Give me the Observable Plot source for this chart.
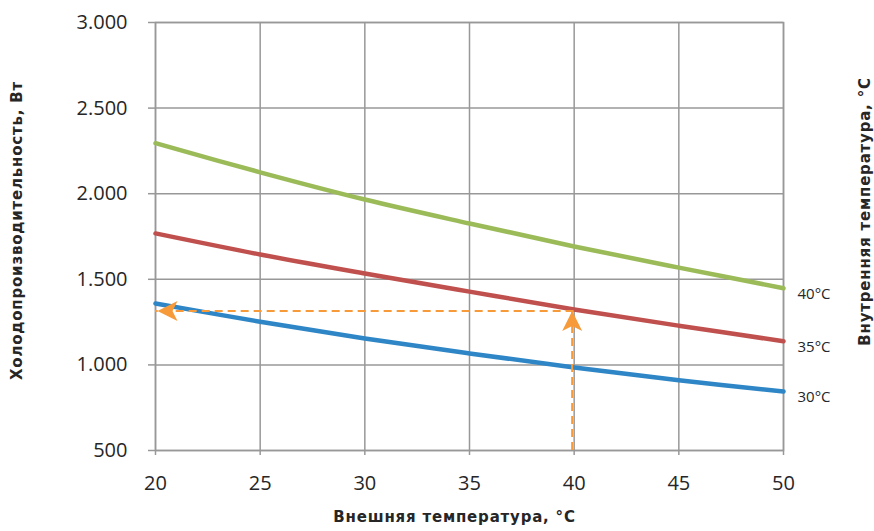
<!DOCTYPE html>
<html>
<head>
<meta charset="utf-8">
<script src="https://cdn.jsdelivr.net/npm/d3@7"></script>
<script src="https://cdn.jsdelivr.net/npm/@observablehq/plot@0.6"></script>
<style>
  html, body { margin: 0; padding: 0; background: #fff; }
  svg [font-weight="bold"] { letter-spacing: 0.8px; }
</style>
</head>
<body>
<div id="chart"></div>
<script>
// Outdoor temperature (x, °C)
const temps = [20, 25, 30, 35, 40, 45, 50];
// Cooling capacity (W) for each indoor temperature
const cap40 = [2295, 2125, 1966, 1826, 1692, 1568, 1448];
const cap35 = [1768, 1645, 1534, 1428, 1324, 1229, 1138];
const cap30 = [1359, 1252, 1154, 1067, 985, 910, 845];
const seriesNames = ["40°C", "35°C", "30°C"];
const seriesValues = [cap40, cap35, cap30];
const seriesColors = ["#9bbb59", "#c0504d", "#2e86c6"];
const xTicks = [20, 25, 30, 35, 40, 45, 50];
const yTicks = [500, 1000, 1500, 2000, 2500, 3000];
// Example reading (arrow)
const exampleX = 40;
const exampleY = 1315;
const exampleX0 = 20;
const exampleY0 = 500;

const rows = [];
seriesNames.forEach((s, i) => temps.forEach((t, j) => rows.push({series: s, x: t, y: seriesValues[i][j]})));
const lastRows = seriesNames.map((s, i) => ({series: s, x: temps[temps.length - 1], y: seriesValues[i][temps.length - 1]}));

const fmt = d => d3.format(",")(d).replace(/,/g, ".");
const grid = "#989898";
const orange = "#f79a3a";

// stealth-shaped arrowhead; tip at the origin, pointing up
const arrowHead = {
  draw(context) {
    context.moveTo(0, 0);
    context.lineTo(-10, 20);
    context.lineTo(0, 15);
    context.lineTo(10, 20);
    context.closePath();
  }
};

const chart = Plot.plot({
  width: 874,
  height: 531,
  marginLeft: 155,
  marginRight: 91,
  marginTop: 22,
  marginBottom: 81,
  style: {fontFamily: "'Open Sans', sans-serif", color: "#262626", background: "#fff"},
  x: {domain: [20, 50]},
  y: {domain: [500, 3000]},
  color: {domain: seriesNames, range: seriesColors},
  marks: [
    Plot.gridX(xTicks, {stroke: grid, strokeOpacity: 1, strokeWidth: 1.5}),
    Plot.gridY(yTicks, {stroke: grid, strokeOpacity: 1, strokeWidth: 1.5}),
    Plot.frame({stroke: grid, strokeWidth: 1.5}),
    Plot.line(rows, {x: "x", y: "y", z: "series", stroke: "series", strokeWidth: 4.5, curve: "catmull-rom"}),
    Plot.ruleX([exampleX], {y1: exampleY0, y2: exampleY, stroke: orange, strokeWidth: 2, strokeDasharray: "8,5", dx: -2}),
    Plot.ruleY([exampleY], {x1: exampleX, x2: exampleX0, stroke: orange, strokeWidth: 2, strokeDasharray: "8,5"}),
    Plot.dot([{x: exampleX, y: exampleY}], {x: "x", y: "y", symbol: arrowHead, r: 5, fill: orange, stroke: null, dx: -2}),
    Plot.dot([{x: exampleX0, y: exampleY}], {x: "x", y: "y", symbol: arrowHead, r: 5, fill: orange, stroke: null, rotate: -90, dx: 2}),
    Plot.axisX({ticks: xTicks, tickSize: 5, tickPadding: 20, fontSize: 20, stroke: grid, strokeWidth: 1.5, label: null}),
    Plot.axisY({ticks: yTicks, tickSize: 7, tickPadding: 21, fontSize: 20, stroke: grid, strokeWidth: 1.5, tickFormat: fmt, label: null}),
    Plot.text(lastRows, {x: "x", y: "y", text: "series", dx: 14, dy: 6, textAnchor: "start", fontSize: 15, fill: "#262626"}),
    Plot.text(["Внешняя температура, °C"], {frameAnchor: "bottom", dx: -15, dy: 71, fontFamily: "'DejaVu Sans', sans-serif", fontWeight: "bold", fontSize: 15, fill: "#262626"}),
    Plot.text(["Холодопроизводительность, Вт"], {frameAnchor: "left", textAnchor: "middle", rotate: -90, dx: -138, dy: -6, fontFamily: "'DejaVu Sans', sans-serif", fontWeight: "bold", fontSize: 15, fill: "#262626"}),
    Plot.text(["Внутренняя температура, °C"], {frameAnchor: "right", textAnchor: "middle", rotate: -90, dx: 82, dy: -25, fontFamily: "'DejaVu Sans', sans-serif", fontWeight: "bold", fontSize: 15, fill: "#262626"})
  ]
});
document.getElementById("chart").appendChild(chart);
</script>
</body>
</html>
